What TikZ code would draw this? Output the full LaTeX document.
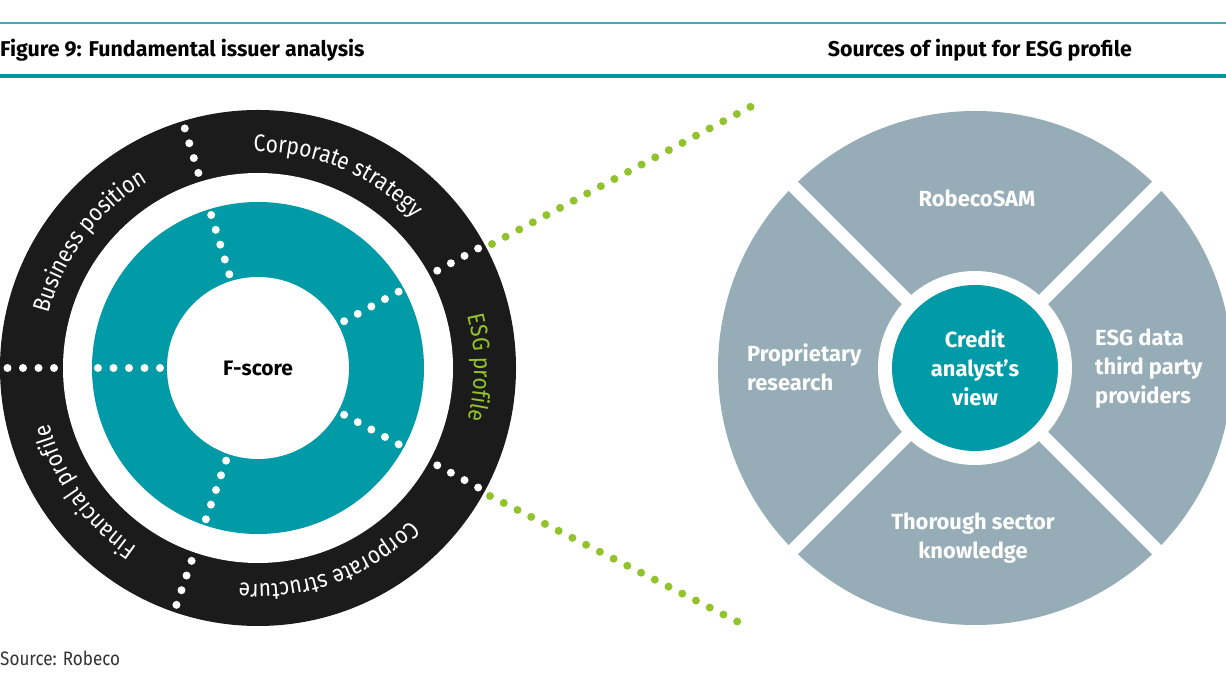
\documentclass[tikz,border=0pt]{standalone}
\usepackage{fontspec}
\setmainfont{Fira Sans}
\newfontfamily\ringfamily{Fira Sans}[FakeStretch=0.88]
\usetikzlibrary{calc,decorations.text}

\definecolor{tealr}{RGB}{0,155,166}
\definecolor{greyr}{RGB}{150,172,182}
\definecolor{greenr}{RGB}{146,195,45}
\definecolor{blackr}{RGB}{27,27,27}
\definecolor{tealline}{RGB}{0,150,160}
\newcommand{\ringfont}{\color{white}\ringfamily\fontsize{24}{24}\selectfont}
\newcommand{\esgfont}{\color{greenr}\ringfamily\fontsize{24}{24}\selectfont}

\begin{document}
\begin{tikzpicture}[x=1bp,y=1bp,
    dotline/.style={white,line width=8bp,line cap=round,dash pattern=on 0bp off 15.5bp},
    greendots/.style={greenr,line width=8bp,line cap=round,dash pattern=on 0bp off 15.4bp},
    ringlabel/.style={decorate,decoration={text along path,text align=center,text={#1}}},
    headtext/.style={inner sep=0pt,font=\bfseries\fontsize{21.5}{21.5}\selectfont},
    srctext/.style={text=white,font=\bfseries\fontsize{22}{29}\selectfont,inner sep=0pt}]
                    \useasboundingbox (0,0) rectangle (1226,690);
                    \draw[tealline!75, line width=2.5bp] (0,667) -- (1226,667);
                    \draw[tealline, line width=4bp] (0,614) -- (1226,614);
                    \node[headtext, anchor=base west] (title) at (0,633) {Figure 9: Fundamental issuer analysis};
                    \node[headtext, anchor=base east] (subtitle) at (1132,633) {Sources of input for ESG profile};
                    \coordinate (lc) at (258,322);
                    \fill[blackr] (lc) circle[radius=258];
                    \fill[white] (lc) circle[radius=195];
                    \fill[tealr] (lc) circle[radius=166];
                    \node[circle, fill=white, minimum size=182bp, inner sep=0pt, font=\bfseries\fontsize{21}{21}\selectfont] (fscore) at (lc) {F-score};
                    \foreach \a in {28.5,107,180,251,331.5}
                        {\draw[dotline] ($(lc)+(\a:204)$) -- ($(lc)+(\a:252)$);
                         \draw[dotline] ($(lc)+(\a:98)$) -- ($(lc)+(\a:161)$);}
                    \path[ringlabel={|\ringfont|Business position}] ($(lc)+(203:216)$) arc[start angle=203, end angle=83, radius=216];
                    \path[ringlabel={|\ringfont|Corporate strategy}] ($(lc)+(127.5:216)$) arc[start angle=127.5, end angle=7.5, radius=216];
                    \path[ringlabel={|\esgfont|ESG profile}] ($(lc)+(60:216)$) arc[start angle=60, end angle=-60, radius=216];
                    \path[ringlabel={|\ringfont|Corporate structure}] ($(lc)+(350:216)$) arc[start angle=350, end angle=230, radius=216];
                    \path[ringlabel={|\ringfont|Financial profile}] ($(lc)+(275.5:216)$) arc[start angle=275.5, end angle=155.5, radius=216];
                    \coordinate (rc) at (975,322);
                    \fill[greyr] (rc) circle[radius=257];
                    \draw[white, line width=13bp] ($(rc)+(45:258)$) -- ($(rc)+(225:258)$);
                    \draw[white, line width=13bp] ($(rc)+(135:258)$) -- ($(rc)+(-45:258)$);
                    \fill[white] (rc) circle[radius=97];
                    \node[circle, fill=tealr, minimum size=166bp, align=center, srctext] (analyst) at (rc) {Credit\\analyst’s\\view};
                    \node[srctext] (robeco) at (977,492) {RobecoSAM};
                    \node[srctext, align=left, anchor=west] (proprietary) at (747,323) {Proprietary\\research};
                    \node[srctext, align=left, anchor=west] (thirdparty) at (1095,321) {ESG data\\third party\\providers};
                    \node[srctext, align=center] (sector) at (973,152) {Thorough sector\\knowledge};
                    \coordinate (upA) at (492,446);
                    \coordinate (upB) at (752,584);
                    \coordinate (loA) at (490,194);
                    \coordinate (loB) at (750,62);
                    \draw[greendots] (upA) -- (upB);
                    \draw[greendots] (loA) -- (loB);
                    \node[anchor=base west, inner sep=0pt, text=black!80, font=\ringfamily\fontsize{19.5}{19.5}\selectfont] (source) at (0,24) {Source: Robeco};
                \end{tikzpicture}
\end{document}
